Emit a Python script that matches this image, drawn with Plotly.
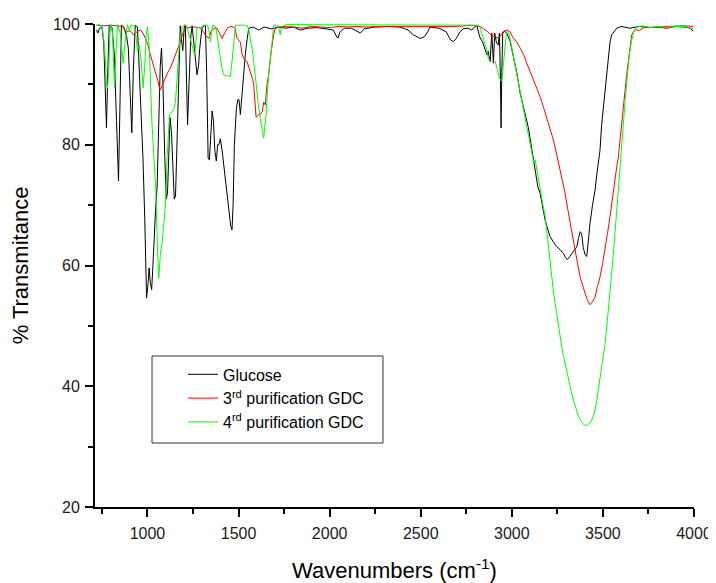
import plotly.graph_objects as go

# ---------------- data ----------------
glucose_x = [720, 728, 735, 750, 760, 768, 775, 782, 790, 805, 818, 830, 841, 850, 857, 870, 885, 895, 905, 914,
             922, 933, 945, 960, 975, 985, 995, 1003, 1009, 1016, 1023, 1030, 1037, 1044, 1053, 1062, 1070, 1077,
             1085, 1095, 1103, 1110, 1118, 1124, 1132, 1140, 1147, 1154, 1162, 1170, 1180, 1188, 1194, 1202, 1208,
             1215, 1220, 1228, 1238, 1245, 1255, 1263, 1272, 1280, 1287, 1300, 1318, 1325, 1333, 1340, 1348, 1355,
             1362, 1370, 1378, 1385, 1392, 1400, 1410, 1418, 1428, 1440, 1450, 1457, 1464, 1470, 1477, 1488, 1496,
             1503, 1510, 1519, 1528, 1537, 1547, 1556, 1580, 1610, 1640, 1680, 1720, 1760, 1800, 1839, 1880, 1930,
             1980, 2020, 2040, 2047, 2055, 2080, 2120, 2150, 2168, 2190, 2250, 2320, 2380, 2404, 2430, 2460, 2497,
             2520, 2540, 2550, 2600, 2640, 2665, 2680, 2695, 2715, 2733, 2760, 2780, 2795, 2808, 2818, 2826, 2840,
             2855, 2863, 2870, 2881, 2890, 2899, 2906, 2915, 2925, 2932, 2938, 2941, 2945, 2950, 2960, 2972, 2990,
             3009, 3027, 3046, 3064, 3078, 3091, 3110, 3128, 3143, 3155, 3170, 3183, 3197, 3210, 3230, 3247, 3265,
             3283, 3295, 3305, 3318, 3329, 3345, 3357, 3366, 3375, 3383, 3392, 3402, 3411, 3420, 3429, 3443, 3457,
             3466, 3475, 3484, 3493, 3502, 3512, 3521, 3530, 3539, 3548, 3576, 3600, 3649, 3700, 3750, 3800, 3850,
             3900, 3950, 3980, 3996]
glucose_y = [99.0, 98.5, 99.2, 99.5, 97, 90, 82.8, 92, 99.8, 99.5, 95, 84, 74.0, 88, 99.8, 99.5, 98, 96, 88, 82,
             92, 99.8, 99.5, 90, 78, 68, 54.6, 57, 59.6, 57, 56, 60, 66, 69, 73, 86.6, 93, 96,
             90, 78, 71, 72, 80, 84.5, 82, 76, 71, 71.5, 80, 92, 99.7, 97, 95.6, 99.5, 99.8,
             90, 83.3, 90, 98, 99.7, 97, 95, 91.6, 93, 96, 99.5, 99.8, 92, 77.8, 77.5, 81, 85.6,
             84, 79, 77.3, 80, 80, 81, 79, 77, 74, 71.4, 69, 66.5, 65.9, 70, 80, 86, 87.5,
             87.4, 85, 88.7, 92, 94.9, 97.5, 99.3, 99.5, 99.0, 99.5, 99.2, 99.5, 99.3, 99.5, 99.0, 99.3, 99.4,
             99.2, 99.0, 97.8, 97.7, 98.6, 99.3, 99.3, 98.8, 98.5, 99.2, 99.5, 99.6, 99.5, 99.3, 99.0, 98.2, 97.6,
             97.9, 98.8, 99.5, 99.3, 98.7, 97.3, 97.1, 97.6, 98.7, 99.2, 99.3, 99.0, 99.5, 99.8, 98.5, 97.7, 97,
             95.5, 94.9, 95.5, 93.8, 98.5, 93.5, 98.5, 97, 96.5, 98.5, 90, 82.8, 92, 98.4, 98.8, 98.5, 97.2,
             94.4, 92, 88.5, 86.5, 84.5, 82.8, 79.1, 75.3, 73, 72, 69.5, 67.5, 66, 64.8, 63.8, 63.1, 62.6,
             62.0, 61.3, 61.0, 61.5, 62.0, 62.6, 63.1, 64.5, 65.6, 65.3, 63, 61.8, 61.5, 64, 67, 70, 72.5,
             75, 77.5, 79.1, 83.3, 86, 88.8, 92, 94.9, 97, 98.2, 99.3, 99.6, 99.3, 99.6, 99.4, 99.5, 99.3,
             99.6, 99.5, 99.3, 98.8]

gdc3_x = [720, 760, 800, 861, 888, 905, 925, 945, 962, 975, 989, 1003, 1016, 1030, 1044, 1058, 1066, 1071, 1080,
          1090, 1099, 1112, 1126, 1140, 1154, 1168, 1181, 1195, 1208, 1254, 1290, 1305, 1318, 1336, 1350, 1365,
          1382, 1395, 1410, 1425, 1440, 1464, 1480, 1492, 1510, 1519, 1528, 1546, 1565, 1576, 1583, 1590, 1596,
          1605, 1610, 1619, 1630, 1638, 1647, 1656, 1665, 1675, 1684, 1693, 1702, 1740, 1800, 1850, 1900, 1950,
          2000, 2050, 2100, 2150, 2200, 2300, 2400, 2500, 2600, 2700, 2771, 2826, 2844, 2865, 2881, 2899, 2918,
          2932, 2945, 2954, 2976, 2990, 3005, 3027, 3046, 3064, 3082, 3100, 3119, 3137, 3155, 3173, 3192, 3210,
          3228, 3247, 3265, 3278, 3292, 3306, 3320, 3334, 3347, 3361, 3375, 3389, 3402, 3416, 3429, 3443, 3457,
          3470, 3484, 3498, 3512, 3526, 3539, 3548, 3557, 3566, 3576, 3584, 3594, 3603, 3612, 3621, 3630, 3640,
          3649, 3658, 3676, 3700, 3730, 3780, 3850, 3950, 3996]
gdc3_y = [99.8, 99.7, 99.8, 99.6, 98.7, 98.9, 98.2, 98.8, 99.0, 98.5, 97.6, 96.5, 94.9, 93.5, 92.1, 90.5, 89.4, 89.1,
          89.8, 90.5, 91, 92, 92.7, 93.8, 94.9, 96, 97.1, 98.5, 99.3, 99.5, 99.4, 98.8, 98.2, 97.6, 98.8, 99.3,
          99.3, 98.5, 97.6, 98.6, 99.4, 99.6, 99.3, 97.6, 97, 95, 94.3, 93.8, 92.2, 91, 90, 86, 84.6,
          84.8, 85, 85, 85.5, 87, 86.6, 90, 91.6, 94.5, 96.8, 98.3, 99.3, 99.6, 99.5, 99.3, 99.6, 99.5,
          99.4, 99.6, 99.5, 99.6, 99.5, 99.6, 99.6, 99.6, 99.5, 99.6, 99.8, 99.6, 99.2, 98.8, 98.3, 98.0, 97.7,
          97.8, 98.4, 98.8, 99.0, 98.7, 97.8, 97.0, 96, 95.0, 93.5, 92.2, 90.8, 89.5, 88, 86.3, 84.5, 82.5,
          80.8, 78.3, 75.8, 74, 72, 69.5, 67, 64.8, 62.6, 60.3, 58.1, 56.5, 55.4, 54.2, 53.5, 54, 54.8,
          56.5, 58.1, 60.3, 62.6, 65.5, 68.1, 70.3, 72.5, 74.5, 76.4, 77.8, 80.5, 83.3, 86, 88.8, 91.5, 94.3,
          96.5, 98.2, 99.1, 98.9, 99.5, 99.4, 99.6, 99.7, 99.6]

gdc4_x = [720, 735, 750, 760, 768, 775, 781, 788, 794, 799, 808, 814, 819, 826, 836, 850, 860, 867, 875, 890, 900,
          910, 927, 937, 945, 955, 965, 976, 985, 993, 1000, 1010, 1024, 1037, 1046, 1055, 1062, 1071, 1080, 1090,
          1099, 1108, 1117, 1121, 1135, 1145, 1154, 1163, 1175, 1190, 1205, 1215, 1226, 1245, 1259, 1266, 1272,
          1290, 1309, 1330, 1340, 1345, 1352, 1358, 1375, 1385, 1391, 1400, 1410, 1418, 1440, 1455, 1465, 1477,
          1483, 1520, 1546, 1555, 1565, 1575, 1583, 1592, 1601, 1610, 1619, 1628, 1633, 1638, 1644, 1651, 1658,
          1665, 1675, 1684, 1693, 1712, 1722, 1729, 1736, 1760, 1900, 2100, 2300, 2500, 2700, 2817, 2826, 2835,
          2844, 2853, 2862, 2871, 2881, 2895, 2908, 2920, 2932, 2945, 2954, 2962, 2970, 2976, 2985, 2992, 3000,
          3009, 3018, 3027, 3036, 3046, 3055, 3064, 3073, 3082, 3091, 3105, 3119, 3128, 3141, 3155, 3169, 3183,
          3192, 3201, 3210, 3219, 3228, 3238, 3247, 3256, 3265, 3274, 3283, 3292, 3301, 3311, 3325, 3338, 3352,
          3366, 3380, 3393, 3405, 3415, 3427, 3439, 3448, 3457, 3466, 3475, 3484, 3493, 3502, 3512, 3521, 3530,
          3539, 3548, 3557, 3566, 3575, 3584, 3594, 3603, 3612, 3621, 3630, 3638, 3645, 3656, 3667, 3685, 3720,
          3760, 3800, 3850, 3900, 3950, 3996]
gdc4_y = [99.8, 99.9, 99.6, 97.5, 94.4, 90, 89.4, 93, 98.5, 99.9, 98.5, 94, 89.4, 94.5, 99.9, 98.5, 95, 93.5, 96.5,
          99.9, 99.0, 99.9, 99.6, 98, 95.5, 96.5, 94, 89.4, 93, 98, 99.6, 96, 83.9, 77.3, 72.3, 62.4, 57.9, 62,
          63.7, 67, 70, 78, 84, 85, 85.5, 86, 87.2, 91.6, 96.6, 99.5, 99.9, 99.7, 98.4, 96.6, 94.9, 97, 99.5,
          99.3, 99.8, 99.8, 98.5, 97.1, 99, 99.8, 99.6, 97.5, 95.5, 94.4, 92.5, 91.6, 91.4, 91.3, 94, 97.7,
          99.8, 99.8, 99.8, 99.2, 97.7, 95.8, 93.8, 91, 88.3, 86.3, 84.4, 82.8, 81.5, 81.1, 83, 85, 88.3,
          91.6, 94.2, 96.6, 99.8, 99.8, 99.2, 98.2, 99.5, 99.9, 99.9, 99.9, 99.9, 99.9, 99.9, 99.8, 99.4, 98.2,
          97.5, 96.6, 95.8, 94.3, 93.8, 93.8, 93.8, 92.5, 91, 90.5, 93.3, 96.5, 98.5, 98.8, 98.3, 97.3, 96,
          94.7, 93.3, 91.7, 90, 88.3, 86.8, 85.5, 84.4, 83, 81.7, 79.4, 77.2, 77.5, 75, 72.5, 70.3, 68.1,
          65.5, 63.1, 60.6, 58.1, 55.8, 53.7, 51.8, 49.9, 48.2, 46.5, 45.1, 43.8, 42.4, 41.0, 39.3, 37.7, 36.3,
          35.0, 34.2, 33.7, 33.5, 33.6, 33.9, 34.4, 35.1, 36.1, 37.6, 39.4, 41.3, 43.2, 45.1, 47.1, 49.8, 52.6,
          55.3, 58.1, 61.7, 65.3, 68.6, 72, 76.5, 79.5, 83.3, 87, 89.9, 92.5, 94.9, 97, 98.5, 99.5, 99.7,
          99.4, 99.6, 99.4, 99.6, 99.6, 99.2]

series_names = ["Glucose", "3<sup>rd</sup> purification GDC", "4<sup>rd</sup> purification GDC"]
series_colors = ["#000000", "#FF0000", "#00FF00"]

x_ticks = [1000, 1500, 2000, 2500, 3000, 3500, 4000]
y_ticks = [20, 40, 60, 80, 100]

FONT = "Liberation Sans, Arial, sans-serif"

fig = go.Figure()
for xs, ys, name, col in zip([glucose_x, gdc3_x, gdc4_x], [glucose_y, gdc3_y, gdc4_y],
                             series_names, series_colors):
    fig.add_trace(go.Scatter(x=xs, y=ys, mode="lines", name=name,
                             line=dict(color=col, width=1)))

axis_common = dict(showline=True, linecolor="black", linewidth=2, showgrid=False, zeroline=False,
                   ticks="outside", ticklen=8, tickwidth=2, tickcolor="black",
                   tickfont=dict(family=FONT, size=16, color="#1a1a1a"))

fig.update_xaxes(range=[712, 4000], tickvals=x_ticks,
                 minor=dict(ticks="outside", ticklen=5, tickwidth=2, tickcolor="black",
                            tick0=750, dtick=500, showgrid=False),
                 title=dict(text="Wavenumbers (cm<sup>-1</sup>)", font=dict(family=FONT, size=22, color="black"),
                            standoff=22),
                 ticklabelstandoff=3,
                 **axis_common)
fig.update_yaxes(range=[20, 100], tickvals=y_ticks,
                 minor=dict(ticks="outside", ticklen=5, tickwidth=2, tickcolor="black",
                            tick0=30, dtick=20, showgrid=False),
                 title=dict(text="% Transmitance", font=dict(family=FONT, size=22, color="black"),
                            standoff=19),
                 ticklabelstandoff=2,
                 **axis_common)

# legend frame
fig.add_shape(type="rect", xref="paper", yref="paper", x0=0.0952, x1=0.4808, y0=0.1325, y1=0.3126,
              line=dict(color="#333333", width=1), fillcolor="rgba(0,0,0,0)")

# the page body has an 8 px margin, so the figure is a little smaller than the window
fig.update_layout(
    width=708, height=575,
    margin=dict(l=87, r=22, t=16, b=76, autoexpand=False),
    paper_bgcolor="white", plot_bgcolor="white",
    font=dict(family=FONT, size=16, color="black"),
    showlegend=True,
    legend=dict(x=0.1469, y=0.3097, xanchor="left", yanchor="top", bgcolor="rgba(0,0,0,0)",
                borderwidth=0, font=dict(family=FONT, size=16, color="black"), tracegroupgap=0),
)

fig.write_html("out.html")
